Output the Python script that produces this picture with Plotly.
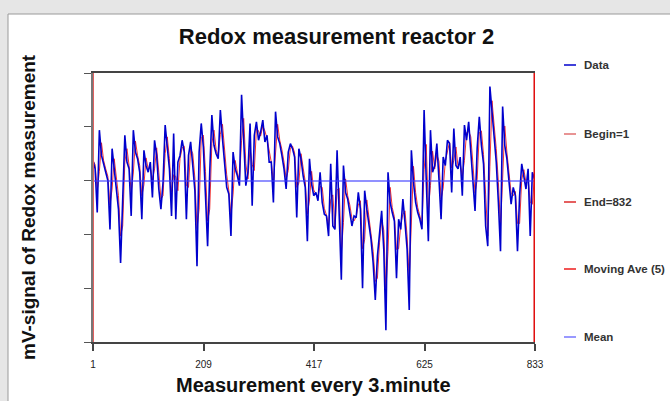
import numpy as np
import pandas as pd
import plotly.graph_objects as go

redox = [
    540, 515, 385, 630, 555, 525, 505, 480, 335, 575, 515, 475, 395, 235, 455, 615,
    535, 515, 375, 630, 565, 545, 505, 365, 570, 525, 505, 535, 430, 600, 555, 455,
    395, 475, 645, 575, 515, 375, 620, 365, 535,
    555, 600, 565, 365, 555, 595, 525, 450, 225, 565, 650, 580, 435, 285, 505, 675,
    585, 560, 545, 690, 605, 535, 460, 440, 315, 565, 515, 495, 465, 735, 595, 465,
    505, 650, 405, 615, 655, 600, 625, 660, 595, 615, 535,
    535, 415, 685, 610, 590, 555, 515, 455, 565, 590, 575, 550, 370, 575, 545, 495,
    460, 300, 545, 470, 435, 445, 420, 505, 415, 380, 375, 315, 530, 345, 335, 570,
    345, 185, 525, 445, 425, 390, 345, 375, 370, 445,
    395, 160, 450, 395, 345, 305, 235, 125, 255, 335, 390, 275, 35, 505, 415, 385,
    360, 190, 365, 335, 425, 355, 275, 95, 570, 475, 415, 385, 365, 335, 690, 485,
    300, 630, 505, 525, 590, 485, 365, 550, 525, 600,
    590, 445, 635, 525, 515, 550, 435, 645, 600, 655, 565, 495, 390, 575, 670, 585,
    530, 345, 285, 760, 675, 615, 535, 415, 270, 700, 585, 545, 475, 410, 460, 435,
    270, 435, 530, 495, 455, 515, 315, 505, 485,
]
begin_idx = 1
end_idx = 832
ma_window = 2  # samples (every 4th point) -> about 5 measurements
x_ticks = [1, 209, 417, 625, 833]
y_ticks = [0, 160, 320, 480, 640, 800]

x = np.linspace(begin_idx, end_idx, len(redox))
y = np.array(redox, dtype=float)
ma = pd.Series(y).rolling(ma_window, min_periods=1, center=True).mean().to_numpy()
mean_val = y.mean()

FONT = "Liberation Sans"
W, H = 670, 401
L, R, T, B = 93, 135, 73, 59
pw, ph = W - L - R, H - T - B

def px(xp):
    return (xp - L) / pw

def py(yp):
    return (H - B - yp) / ph

fig = go.Figure()
fig.add_trace(go.Scatter(x=x, y=ma, mode="lines", line=dict(color="#ee1c1c", width=0.9),
                         hoverinfo="skip", showlegend=False))
fig.add_trace(go.Scatter(x=x, y=y, mode="lines", line=dict(color="#0000cd", width=1.6),
                         showlegend=False))
fig.add_trace(go.Scatter(x=[begin_idx, x_ticks[-1]], y=[mean_val, mean_val], mode="lines",
                         line=dict(color="rgba(60,60,255,0.75)", width=1.5), showlegend=False))
fig.add_trace(go.Scatter(x=[begin_idx, begin_idx], y=[y_ticks[0], y_ticks[-1]], mode="lines",
                         line=dict(color="#e06060", width=2), showlegend=False))
fig.add_trace(go.Scatter(x=[end_idx, end_idx], y=[y_ticks[0], y_ticks[-1]], mode="lines",
                         line=dict(color="#e01010", width=2), showlegend=False))

# background panel like the R window
shapes = [dict(type="rect", xref="paper", yref="paper", x0=px(8), x1=px(W + 2), y0=py(H + 2), y1=py(14),
               fillcolor="white", line=dict(color="#9a9a9a", width=1), layer="below")]

# legend drawn by hand
legend = [("Data", "#0000cd", 65), ("Begin=1", "#e07070", 134), ("End=832", "#dd2a2a", 202),
          ("Moving Ave (5)", "#ee1c1c", 269), ("Mean", "#7777ff", 337)]
annotations = []
for name, col, yy in legend:
    shapes.append(dict(type="line", xref="paper", yref="paper", x0=px(564), x1=px(576),
                       y0=py(yy), y1=py(yy), line=dict(color=col, width=1.5)))
    annotations.append(dict(text="<b>" + name + "</b>", xref="paper", yref="paper", x=px(582), y=py(yy),
                            xanchor="left", yanchor="middle", showarrow=False,
                            font=dict(family=FONT, size=11.5, color="#333333")))

annotations.append(dict(text="<b>Measurement every 3.minute</b>", xref="paper", yref="paper",
                        x=px(313), y=py(385), xanchor="center", yanchor="middle", showarrow=False,
                        font=dict(family=FONT, size=20, color="#111111")))
annotations.append(dict(text="<b>mV-signal of Redox measurement</b>", xref="paper", yref="paper",
                        x=px(28), y=py(207), xanchor="center", yanchor="middle", showarrow=False,
                        textangle=-90, font=dict(family=FONT, size=19, color="#111111")))

fig.update_layout(
    width=W, height=H,
    margin=dict(l=L, r=R, t=T, b=B),
    paper_bgcolor="#e6e6e6", plot_bgcolor="white",
    title=dict(text="<b>Redox measurement reactor 2</b>", x=px(315), xanchor="center",
               y=1 - 36 / H, yanchor="middle", font=dict(family=FONT, size=22, color="#111111")),
    shapes=shapes, annotations=annotations,
    showlegend=False,
    xaxis=dict(range=[x_ticks[0], x_ticks[-1]], tickvals=x_ticks, ticktext=[str(t) for t in x_ticks],
               showgrid=False, zeroline=False, showline=True, linecolor="#444444", linewidth=1.5,
               mirror=True, ticks="outside", ticklen=7, tickcolor="#444444", tickwidth=1.5,
               ticklabelstandoff=5,
               tickfont=dict(family=FONT, size=10, color="#222222")),
    yaxis=dict(range=[y_ticks[0], y_ticks[-1]], tickvals=y_ticks, showticklabels=False,
               showgrid=False, zeroline=False, showline=True, linecolor="#777777", linewidth=2,
               ticks="outside", ticklen=7, tickcolor="#555555", tickwidth=1.2),
)

fig.write_html("out.html", config={"displayModeBar": False},
               post_script="document.body.style.margin='0px';document.body.style.overflow='hidden';"
                           "document.body.style.background='#e6e6e6';")
